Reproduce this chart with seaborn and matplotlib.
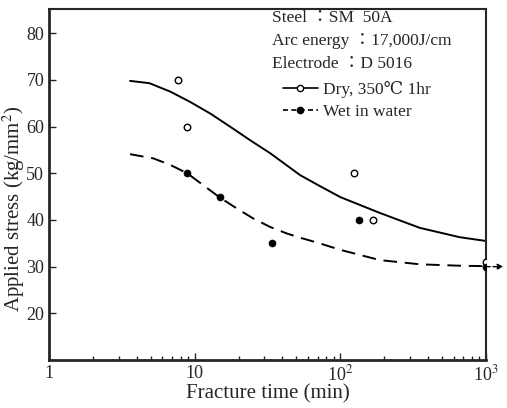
import numpy as np
import pandas as pd
import matplotlib
matplotlib.use("Agg")
import matplotlib.pyplot as plt
import seaborn as sns
from matplotlib.lines import Line2D
from matplotlib.transforms import offset_copy

# ---- data ----
dry_time = [7.7, 8.9, 124, 167, 1000]
dry_stress = [70, 60, 50, 40, 31]
wet_time = [8.9, 14.9, 34, 134, 1000]
wet_stress = [50, 45, 35, 40, 30]

dry_curve_time = [3.6, 4.9, 6.8, 9.3, 12.8, 17.5, 24, 33, 53, 72, 100, 187, 352, 662, 1000]
dry_curve_stress = [69.8, 69.3, 67.5, 65.3, 62.8, 60.0, 57.1, 54.3, 49.6, 47.3, 44.9, 41.5, 38.3, 36.3, 35.5]
wet_curve_time = [3.6, 5.2, 6.8, 8.9, 11.4, 14.9, 19.4, 25.3, 33, 43, 53, 72, 100, 187, 352, 662, 1000]
wet_curve_stress = [54.1, 53.2, 51.8, 50.0, 47.5, 44.8, 42.5, 40.3, 38.5, 37.1, 36.2, 35.0, 33.6, 31.4, 30.5, 30.2, 30.1]

y_ticks = [20, 30, 40, 50, 60, 70, 80]
x_ticks = [1, 10, 100, 1000]
x_tick_labels = ["1", "10", "10$^2$", "10$^3$"]

info_lines = ["Steel ：SM  50A", "Arc energy ：17,000J/cm", "Electrode ：D 5016"]
series_labels = ["Dry, 350℃ 1hr", "Wet in water"]

sns.set_style("ticks")
plt.rcParams['font.family'] = ['Liberation Serif', 'DejaVu Serif', 'Noto Sans CJK JP']
plt.rcParams['mathtext.fontset'] = 'stix'

fig = plt.figure(figsize=(5.07, 4.08), dpi=100)
ax = fig.add_axes([49/507, 48/408, 437/507, 351/408])

dc = pd.DataFrame({"t": dry_curve_time, "s": dry_curve_stress})
wc = pd.DataFrame({"t": wet_curve_time, "s": wet_curve_stress})
sns.lineplot(data=dc, x="t", y="s", ax=ax, color="black", lw=1.4, sort=True)
sns.lineplot(data=wc, x="t", y="s", ax=ax, color="black", lw=1.4, sort=True)
ax.lines[-1].set_dashes([7, 4])

dp = pd.DataFrame({"t": dry_time, "s": dry_stress})
wp = pd.DataFrame({"t": wet_time, "s": wet_stress})
sns.scatterplot(data=dp, x="t", y="s", ax=ax, marker="o", s=22, facecolor="white",
                edgecolor="black", linewidth=1.0, zorder=5)
sns.scatterplot(data=wp, x="t", y="s", ax=ax, marker="o", s=26, color="black",
                edgecolor="black", zorder=6)

ax.set_xscale("log")
ax.set_xlim(1, 1000)
ax.set_ylim(10, 85.2)
ax.set_yticks(y_ticks)
ax.set_xticks(x_ticks)
ax.set_xticklabels(x_tick_labels)
ax.tick_params(axis="both", which="both", direction="in", labelsize=13)
ax.tick_params(axis="both", which="major", length=5, width=1)
ax.tick_params(axis="x", which="minor", length=3, width=1)

for side in ["left", "bottom"]:
    ax.spines[side].set_linewidth(2.0)
for side in ["top", "right"]:
    ax.spines[side].set_linewidth(1.5)

ax.set_xlabel("Fracture time (min)", fontsize=15)
ax.xaxis.set_label_coords(0.5, -0.07)
ax.set_ylabel("Applied stress (kg/mm$^2$)", fontsize=15)
ax.yaxis.set_label_coords(-0.05, 0.43)

# arrow at run-out point (last wet point)
tr = offset_copy(ax.transData, fig=fig, x=12.5, y=0, units="points")
ax.annotate("", xy=(wet_time[-1], wet_stress[-1]), xycoords=tr,
            xytext=(wet_time[-1], wet_stress[-1]), textcoords="data",
            arrowprops=dict(arrowstyle="-|>", ls=(0, (3, 2)), lw=1.0, color="black",
                            mutation_scale=8, shrinkA=0, shrinkB=0),
            annotation_clip=False)

for i, line in enumerate(info_lines):
    ax.text(0.51, 0.974 - i * 0.0655, line, transform=ax.transAxes, fontsize=12.5,
            va="center", ha="left")

handles = [
    Line2D([], [], color="black", lw=1.2, ls="-", marker="o", markersize=4.5,
           markerfacecolor="white", markeredgecolor="black"),
    Line2D([], [], color="black", lw=1.2, ls=(0, (3, 2)), marker="o", markersize=4.5,
           markerfacecolor="black"),
]
ax.legend(handles, series_labels, loc="upper left", bbox_to_anchor=(0.535, 0.795),
          frameon=False, fontsize=12.5, handlelength=2.0, handletextpad=0.3,
          labelspacing=0.35, borderaxespad=0, borderpad=0)

fig.savefig("out.png", dpi=100)
